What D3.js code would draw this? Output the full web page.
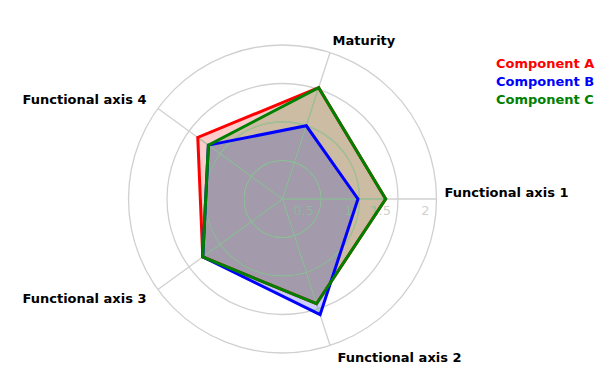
<!DOCTYPE html>
<html>
<head>
<meta charset="utf-8">
<script src="https://cdn.jsdelivr.net/npm/d3@7"></script>
<style>
  body { margin: 0; background: #fff; }
  text { font-family: "DejaVu Sans", Verdana, sans-serif; }
  .axis-label { font-size: 13px; font-weight: bold; fill: #000; }
  .legend-text { font-size: 13px; font-weight: bold; }
  .tick-label { font-size: 13px; }
</style>
</head>
<body>
<div id="chart"></div>
<script>
// axes, clockwise from the right
var axes = ["Functional axis 1", "Functional axis 2", "Functional axis 3", "Functional axis 4", "Maturity"];
var seriesNames = ["Component A", "Component B", "Component C"];
var seriesColors = ["#ff0000", "#0000ff", "#008000"];
var valuesA = [1.34, 1.43, 1.28, 1.36, 1.52];
var valuesB = [0.98, 1.58, 1.28, 1.19, 1.00];
var valuesC = [1.34, 1.43, 1.28, 1.19, 1.52];
var ticks = [0.5, 1, 1.5, 2];

var width = 598, height = 391;
var cx = 282.5, cy = 199;

var svg = d3.select("#chart").append("svg")
    .attr("width", width)
    .attr("height", height);

var g = svg.append("g")
    .attr("transform", "translate(" + cx + "," + cy + ")");

var r = d3.scaleLinear().domain([0, 2]).range([0, 154]);

// angle from 12 o'clock, clockwise (d3.lineRadial convention)
function angle(i) { return Math.PI / 2 + i * 2 * Math.PI / axes.length; }

var radar = d3.lineRadial()
    .angle(function(d, i) { return angle(i); })
    .radius(function(d) { return r(d); })
    .curve(d3.curveLinearClosed);

var allSeries = [valuesA, valuesB, valuesC];

// grid drawing, used twice (plain under, tinted over the fills)
function drawGrid(sel, color) {
    sel.selectAll(".ring")
        .data(ticks)
        .enter().append("circle")
        .attr("class", "ring")
        .attr("r", function(d) { return r(d); })
        .style("fill", "none")
        .style("stroke", color)
        .style("stroke-width", 1.3);

    sel.selectAll(".spoke")
        .data(axes)
        .enter().append("line")
        .attr("class", "spoke")
        .attr("x1", 0).attr("y1", 0)
        .attr("x2", function(d, i) { return r(2) * Math.sin(angle(i)); })
        .attr("y2", function(d, i) { return -r(2) * Math.cos(angle(i)); })
        .style("stroke", color)
        .style("stroke-width", 1.3);

    sel.selectAll(".tick-label")
        .data(ticks)
        .enter().append("text")
        .attr("class", "tick-label")
        .attr("x", function(d) { return r(d) - 7; })
        .attr("y", 16)
        .attr("text-anchor", "end")
        .style("fill", color)
        .text(function(d) { return d; });
}

drawGrid(g.append("g"), "#d0d0d0");

// fills
g.selectAll(".area")
    .data(allSeries)
    .enter().append("path")
    .attr("class", "area")
    .attr("d", radar)
    .style("fill", function(d, i) { return seriesColors[i]; })
    .style("fill-opacity", 0.2)
    .style("stroke", "none");

// grid shows through the fills with a greenish tint
var clip = svg.append("defs").append("clipPath").attr("id", "fill-clip");
clip.selectAll("path")
    .data(allSeries)
    .enter().append("path")
    .attr("d", radar);

var over = g.append("g")
    .attr("clip-path", "url(#fill-clip)")
    .style("opacity", 0.7);
drawGrid(over, "rgb(150,210,160)");

// outlines
g.selectAll(".outline")
    .data(allSeries)
    .enter().append("path")
    .attr("class", "outline")
    .attr("d", radar)
    .style("fill", "none")
    .style("stroke", function(d, i) { return seriesColors[i]; })
    .style("stroke-width", 3);

// axis labels
g.selectAll(".axis-label")
    .data(axes)
    .enter().append("text")
    .attr("class", "axis-label")
    .each(function(d, i) {
        var a = angle(i), s = Math.sin(a), c = Math.cos(a);
        var R = r(2) + 8;
        var x = R * s, y = -R * c;
        if (c < 0.9 && Math.abs(s) < 0.95) x += 5 * Math.sign(s);
        var anchor = s > 0.1 ? "start" : (s < -0.1 ? "end" : "middle");
        var dy = c < -0.3 ? "0.7em" : (c > 0.3 ? "0em" : "-0.15em");
        d3.select(this)
            .attr("x", x)
            .attr("y", y)
            .attr("dy", dy)
            .attr("text-anchor", anchor);
    })
    .text(function(d) { return d; });

// legend
svg.selectAll(".legend-text")
    .data(seriesNames)
    .enter().append("text")
    .attr("class", "legend-text")
    .attr("x", 496)
    .attr("y", function(d, i) { return 68 + i * 18; })
    .style("fill", function(d, i) { return seriesColors[i]; })
    .text(function(d) { return d; });
</script>
</body>
</html>
